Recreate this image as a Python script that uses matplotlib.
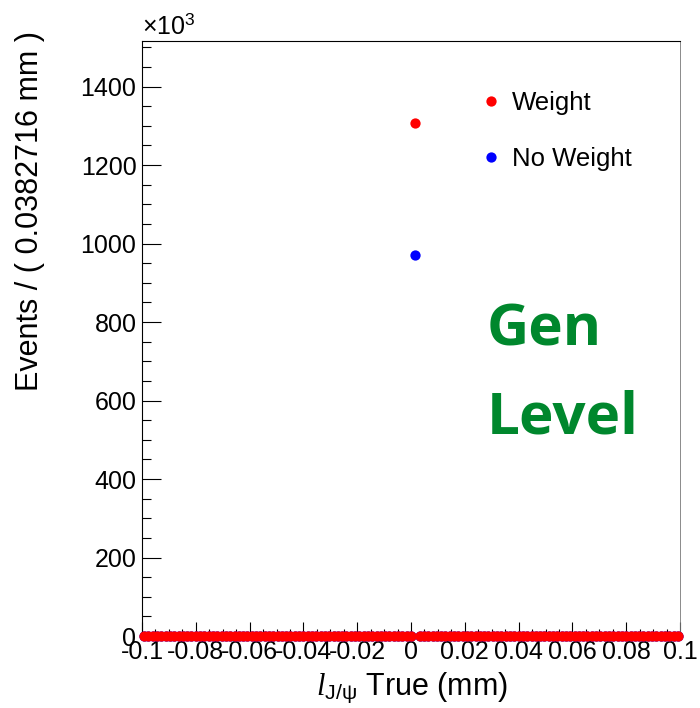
import numpy as np
import matplotlib
matplotlib.use('Agg')
import matplotlib.pyplot as plt
from matplotlib.ticker import MultipleLocator

plt.rcParams['font.family'] = ['Liberation Sans', 'DejaVu Sans']
plt.rcParams['mathtext.fontset'] = 'custom'
plt.rcParams['mathtext.rm'] = 'Liberation Sans'
plt.rcParams['mathtext.it'] = 'Liberation Serif:italic'
plt.rcParams['mathtext.cal'] = 'Liberation Sans'

# --- histogram data (events in units of 10^3) ---
x_lo, x_hi, n_bins = -0.1, 0.1, 125
peak_bin = 63
weight_peak = 1307.0
noweight_peak = 972.0

bin_edges = np.linspace(x_lo, x_hi, n_bins + 1)
bin_centers = 0.5 * (bin_edges[:-1] + bin_edges[1:])
weighted = np.zeros(n_bins)
weighted[peak_bin] = weight_peak
unweighted = np.zeros(n_bins)
unweighted[peak_bin] = noweight_peak

y_max = 1516.0

fig = plt.figure(figsize=(7.0, 7.08), dpi=100)
ax = fig.add_axes([142 / 700, 1 - 636 / 708, 538 / 700, 595 / 708])

l_nw, = ax.plot(bin_centers, unweighted, 'o', color='blue', ms=7.4,
                mec='none', clip_on=False, zorder=3, label='No Weight')
l_w, = ax.plot(bin_centers, weighted, 'o', color='red', ms=7.4,
               mec='none', clip_on=False, zorder=4, label='Weight')

ax.set_xlim(x_lo, x_hi)
ax.set_ylim(0, y_max)

ax.xaxis.set_major_locator(MultipleLocator(0.02))
ax.xaxis.set_minor_locator(MultipleLocator(0.005))
ax.yaxis.set_major_locator(MultipleLocator(200))
ax.yaxis.set_minor_locator(MultipleLocator(50))
ax.xaxis.set_major_formatter(lambda v, p: f'{v:.2f}'.rstrip('0').rstrip('.') if abs(v) > 1e-9 else '0')

ax.tick_params(axis='both', which='both', direction='in', top=False, right=False,
               labelsize=18, width=0.8, colors='black')
ax.tick_params(axis='x', which='major', length=10, pad=3)
ax.tick_params(axis='x', which='minor', length=5)
ax.tick_params(axis='y', which='major', length=14, pad=4)
ax.tick_params(axis='y', which='minor', length=6.5)

for s in ['left', 'bottom', 'top']:
    ax.spines[s].set_linewidth(0.8)
ax.spines['right'].set_linewidth(0.6)
ax.spines['right'].set_color('#777777')

# axis titles, ROOT style
fig.text(30 / 700, 1 - 31 / 708, 'Events / ( 0.0382716 mm )', rotation=90,
         ha='center', va='top', fontsize=22)
fig.text(412 / 700, 1 - 688 / 708, r'$l_{\mathrm{J/\psi}}$ True (mm)',
         ha='center', va='center', fontsize=22)
ax.text(0.0, 1.003, r'$\times\mathrm{10}^{\mathrm{3}}$', transform=ax.transAxes,
        ha='left', va='bottom', fontsize=18)

ax.legend(handles=[l_w, l_nw], loc='upper left', bbox_to_anchor=(481 / 700, 1 - 91 / 708),
          bbox_transform=fig.transFigure, frameon=False, fontsize=18.5,
          numpoints=1, handlelength=0.8, handletextpad=0.4, labelspacing=1.25,
          borderpad=0, borderaxespad=0)

fig.text(487 / 700, 1 - 330 / 708, 'Gen', fontfamily='Open Sans', fontweight='bold',
         fontsize=42, color='#00872d', ha='left', va='center')
fig.text(487 / 700, 1 - 419 / 708, 'Level', fontfamily='Open Sans', fontweight='bold',
         fontsize=42, color='#00872d', ha='left', va='center')

fig.savefig('out.png', dpi=100)
